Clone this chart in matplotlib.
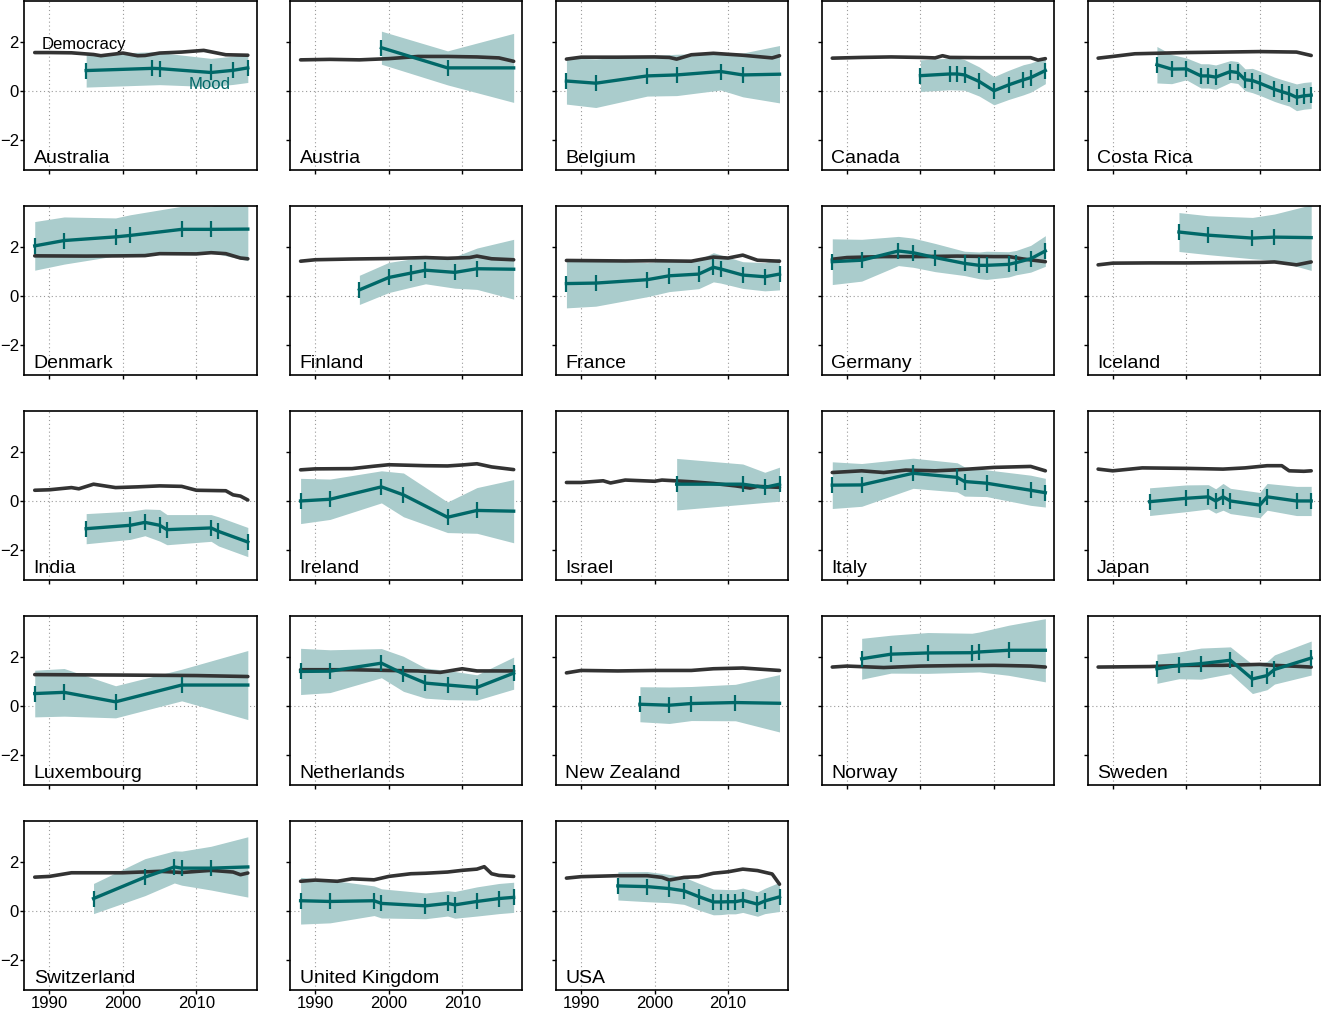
import numpy as np
import matplotlib
matplotlib.use('Agg')
import matplotlib.pyplot as plt

plt.rcParams['font.family'] = ['Liberation Sans', 'DejaVu Sans']

countries = ['Australia', 'Austria', 'Belgium', 'Canada', 'Costa Rica',
             'Denmark', 'Finland', 'France', 'Germany', 'Iceland',
             'India', 'Ireland', 'Israel', 'Italy', 'Japan',
             'Luxembourg', 'Netherlands', 'New Zealand', 'Norway', 'Sweden',
             'Switzerland', 'United Kingdom', 'USA']

# democracy index, knots
dem_years = {
    'Australia': [1988, 1990, 1993, 1996, 1997, 2000, 2002, 2003, 2005, 2008, 2011, 2014, 2017],
    'Austria': [1988, 1992, 1996, 2000, 2004, 2008, 2012, 2015, 2017],
    'Belgium': [1988, 1990, 1995, 2000, 2002, 2003, 2005, 2008, 2012, 2016, 2017],
    'Canada': [1988, 1992, 1996, 2000, 2002, 2003, 2004, 2008, 2012, 2015, 2016, 2017],
    'Costa Rica': [1988, 1990, 1993, 2000, 2005, 2010, 2015, 2017],
    'Denmark': [1988, 1995, 2000, 2003, 2005, 2010, 2012, 2014, 2016, 2017],
    'Finland': [1988, 1990, 1995, 2000, 2005, 2008, 2011, 2012, 2014, 2017],
    'France': [1988, 1992, 1996, 2000, 2005, 2008, 2010, 2012, 2014, 2017],
    'Germany': [1988, 1990, 1995, 2000, 2005, 2010, 2012, 2014, 2017],
    'Iceland': [1988, 1990, 1995, 2000, 2005, 2010, 2012, 2015, 2017],
    'India': [1988, 1990, 1993, 1994, 1996, 1999, 2002, 2005, 2008, 2010, 2014, 2015, 2016, 2017],
    'Ireland': [1988, 1990, 1995, 1998, 2000, 2005, 2008, 2010, 2012, 2014, 2017],
    'Israel': [1988, 1990, 1993, 1994, 1996, 2000, 2001, 2005, 2008, 2011, 2013, 2014, 2017],
    'Italy': [1988, 1992, 1995, 1998, 2002, 2005, 2010, 2015, 2017],
    'Japan': [1988, 1990, 1994, 2000, 2005, 2008, 2011, 2013, 2014, 2016, 2017],
    'Luxembourg': [1988, 2000, 2010, 2017],
    'Netherlands': [1988, 1995, 2000, 2004, 2007, 2010, 2012, 2017],
    'New Zealand': [1988, 1990, 1995, 2000, 2005, 2008, 2012, 2017],
    'Norway': [1988, 1990, 1995, 2000, 2005, 2010, 2012, 2015, 2017],
    'Sweden': [1988, 1995, 2000, 2005, 2010, 2012, 2015, 2017],
    'Switzerland': [1988, 1990, 1993, 2000, 2005, 2008, 2012, 2015, 2016, 2017],
    'United Kingdom': [1988, 1990, 1993, 1995, 1998, 2000, 2003, 2005, 2008, 2010, 2012, 2013, 2014, 2015, 2017],
    'USA': [1988, 1990, 1995, 1999, 2001, 2002, 2004, 2006, 2008, 2010, 2012, 2014, 2016, 2017],
}
dem_values = {
    'Australia': [1.58, 1.58, 1.57, 1.50, 1.45, 1.56, 1.45, 1.46, 1.56, 1.60, 1.67, 1.49, 1.47],
    'Austria': [1.28, 1.30, 1.28, 1.33, 1.42, 1.42, 1.40, 1.36, 1.22],
    'Belgium': [1.31, 1.39, 1.39, 1.40, 1.38, 1.31, 1.49, 1.55, 1.47, 1.36, 1.45],
    'Canada': [1.35, 1.38, 1.40, 1.38, 1.36, 1.45, 1.38, 1.37, 1.37, 1.37, 1.27, 1.33],
    'Costa Rica': [1.35, 1.42, 1.53, 1.58, 1.60, 1.62, 1.60, 1.46],
    'Denmark': [1.65, 1.64, 1.65, 1.66, 1.74, 1.73, 1.78, 1.74, 1.56, 1.53],
    'Finland': [1.43, 1.49, 1.52, 1.54, 1.58, 1.55, 1.58, 1.64, 1.53, 1.49],
    'France': [1.46, 1.45, 1.44, 1.45, 1.43, 1.60, 1.56, 1.68, 1.47, 1.43],
    'Germany': [1.51, 1.58, 1.62, 1.62, 1.64, 1.62, 1.62, 1.52, 1.41],
    'Iceland': [1.28, 1.35, 1.36, 1.36, 1.37, 1.38, 1.40, 1.28, 1.40],
    'India': [0.44, 0.46, 0.55, 0.50, 0.69, 0.55, 0.58, 0.62, 0.60, 0.44, 0.42, 0.25, 0.20, 0.04],
    'Ireland': [1.28, 1.32, 1.33, 1.43, 1.49, 1.45, 1.44, 1.48, 1.53, 1.40, 1.29],
    'Israel': [0.76, 0.76, 0.83, 0.74, 0.86, 0.81, 0.86, 0.79, 0.72, 0.62, 0.53, 0.60, 0.56],
    'Italy': [1.17, 1.24, 1.17, 1.27, 1.24, 1.28, 1.38, 1.42, 1.24],
    'Japan': [1.31, 1.24, 1.36, 1.34, 1.31, 1.36, 1.45, 1.45, 1.24, 1.22, 1.24],
    'Luxembourg': [1.29, 1.27, 1.25, 1.21],
    'Netherlands': [1.49, 1.49, 1.46, 1.44, 1.38, 1.53, 1.44, 1.44],
    'New Zealand': [1.36, 1.46, 1.44, 1.46, 1.46, 1.53, 1.56, 1.46],
    'Norway': [1.60, 1.64, 1.58, 1.64, 1.66, 1.67, 1.66, 1.64, 1.60],
    'Sweden': [1.60, 1.62, 1.67, 1.67, 1.71, 1.67, 1.63, 1.60],
    'Switzerland': [1.39, 1.42, 1.57, 1.57, 1.63, 1.58, 1.67, 1.60, 1.49, 1.56],
    'United Kingdom': [1.22, 1.27, 1.22, 1.32, 1.28, 1.42, 1.53, 1.55, 1.60, 1.67, 1.72, 1.82, 1.53, 1.46, 1.42],
    'USA': [1.35, 1.41, 1.45, 1.45, 1.38, 1.27, 1.38, 1.41, 1.55, 1.61, 1.72, 1.66, 1.52, 1.10],
}

# mood estimates at survey years, with half-width of the band
mood_years = {
    'Australia': [1995, 2004, 2005, 2012, 2015, 2017],
    'Austria': [1999, 2008, 2017],
    'Belgium': [1988, 1992, 1999, 2003, 2009, 2012, 2017],
    'Canada': [2000, 2004, 2005, 2006, 2008, 2010, 2012, 2014, 2015, 2017],
    'Costa Rica': [1996, 1998, 2000, 2002, 2003, 2004, 2006, 2007, 2008, 2009, 2010, 2012, 2013, 2014, 2015, 2016, 2017],
    'Denmark': [1988, 1992, 1999, 2001, 2008, 2012, 2017],
    'Finland': [1996, 2000, 2003, 2005, 2009, 2012, 2017],
    'France': [1988, 1992, 1999, 2002, 2006, 2008, 2009, 2012, 2015, 2017],
    'Germany': [1988, 1992, 1997, 1999, 2002, 2006, 2008, 2009, 2012, 2013, 2015, 2017],
    'Iceland': [1999, 2003, 2009, 2012, 2017],
    'India': [1995, 2001, 2003, 2005, 2006, 2012, 2013, 2017],
    'Ireland': [1988, 1992, 1999, 2002, 2008, 2012, 2017],
    'Israel': [2003, 2012, 2015, 2017],
    'Italy': [1988, 1992, 1999, 2005, 2006, 2009, 2015, 2017],
    'Japan': [1995, 2000, 2003, 2004, 2005, 2006, 2010, 2011, 2015, 2017],
    'Luxembourg': [1988, 1992, 1999, 2008, 2017],
    'Netherlands': [1988, 1992, 1999, 2002, 2005, 2008, 2012, 2017],
    'New Zealand': [1998, 2002, 2005, 2011, 2017],
    'Norway': [1992, 1996, 2001, 2007, 2008, 2012, 2017],
    'Sweden': [1996, 1999, 2002, 2006, 2009, 2011, 2012, 2017],
    'Switzerland': [1996, 2003, 2007, 2008, 2012, 2017],
    'United Kingdom': [1988, 1992, 1998, 1999, 2005, 2008, 2009, 2012, 2015, 2017],
    'USA': [1995, 1999, 2002, 2004, 2006, 2008, 2009, 2010, 2011, 2012, 2014, 2015, 2017],
}
mood_values = {
    'Australia': [0.84, 0.93, 0.92, 0.76, 0.85, 0.95],
    'Austria': [1.78, 0.95, 0.95],
    'Belgium': [0.41, 0.32, 0.62, 0.66, 0.80, 0.66, 0.69],
    'Canada': [0.63, 0.70, 0.70, 0.66, 0.39, 0.01, 0.25, 0.46, 0.55, 0.84],
    'Costa Rica': [1.08, 0.90, 0.91, 0.62, 0.62, 0.57, 0.80, 0.76, 0.46, 0.43, 0.32, 0.07, -0.03, -0.12, -0.26, -0.20, -0.17],
    'Denmark': [2.06, 2.28, 2.43, 2.49, 2.74, 2.74, 2.75],
    'Finland': [0.25, 0.76, 0.94, 1.06, 0.97, 1.12, 1.10],
    'France': [0.51, 0.53, 0.67, 0.83, 0.90, 1.18, 1.11, 0.86, 0.79, 0.90],
    'Germany': [1.41, 1.47, 1.85, 1.78, 1.58, 1.34, 1.26, 1.26, 1.30, 1.37, 1.53, 1.85],
    'Iceland': [2.63, 2.50, 2.38, 2.42, 2.40],
    'India': [-1.14, -1.00, -0.88, -1.00, -1.18, -1.11, -1.25, -1.69],
    'Ireland': [0.00, 0.07, 0.58, 0.25, -0.67, -0.39, -0.42],
    'Israel': [0.69, 0.69, 0.56, 0.69],
    'Italy': [0.65, 0.66, 1.14, 0.97, 0.80, 0.73, 0.44, 0.34],
    'Japan': [-0.03, 0.11, 0.17, 0.00, 0.17, 0.00, -0.17, 0.17, 0.00, 0.00],
    'Luxembourg': [0.51, 0.56, 0.17, 0.86, 0.86],
    'Netherlands': [1.42, 1.43, 1.76, 1.32, 0.94, 0.86, 0.76, 1.35],
    'New Zealand': [0.07, 0.03, 0.10, 0.14, 0.11],
    'Norway': [1.94, 2.13, 2.18, 2.19, 2.22, 2.29, 2.29],
    'Sweden': [1.53, 1.67, 1.74, 1.88, 1.11, 1.25, 1.50, 1.97],
    'Switzerland': [0.51, 1.39, 1.81, 1.76, 1.76, 1.81],
    'United Kingdom': [0.42, 0.39, 0.42, 0.31, 0.21, 0.31, 0.25, 0.39, 0.51, 0.56],
    'USA': [1.03, 1.00, 0.92, 0.83, 0.59, 0.37, 0.37, 0.38, 0.38, 0.44, 0.28, 0.41, 0.58],
}
mood_ci = {
    'Australia': [0.68, 0.68, 0.66, 0.58, 0.58, 0.60],
    'Austria': [0.68, 0.70, 1.42],
    'Belgium': [0.95, 1.00, 0.83, 0.85, 0.76, 0.90, 1.18],
    'Canada': [0.65, 0.65, 0.66, 0.63, 0.60, 0.58, 0.60, 0.62, 0.60, 0.54],
    'Costa Rica': [0.75, 0.60, 0.45, 0.50, 0.50, 0.50, 0.45, 0.45, 0.45, 0.50, 0.50, 0.50, 0.50, 0.50, 0.55, 0.55, 0.55],
    'Denmark': [1.00, 0.97, 0.78, 0.85, 0.95, 0.95, 1.30],
    'Finland': [0.60, 0.62, 0.58, 0.56, 0.65, 0.85, 1.23],
    'France': [1.00, 0.95, 0.70, 0.65, 0.60, 0.60, 0.58, 0.55, 0.58, 0.65],
    'Germany': [0.94, 0.86, 0.60, 0.60, 0.58, 0.50, 0.55, 0.58, 0.52, 0.50, 0.55, 0.63],
    'Iceland': [0.80, 0.80, 0.85, 0.95, 1.35],
    'India': [0.62, 0.58, 0.55, 0.65, 0.62, 0.55, 0.60, 0.60],
    'Ireland': [0.93, 0.83, 0.66, 0.90, 0.63, 0.94, 1.30],
    'Israel': [1.06, 0.83, 0.62, 0.70],
    'Italy': [0.96, 0.88, 0.62, 0.60, 0.60, 0.55, 0.62, 0.59],
    'Japan': [0.57, 0.55, 0.50, 0.50, 0.55, 0.52, 0.52, 0.55, 0.60, 0.60],
    'Luxembourg': [0.96, 0.98, 0.66, 0.65, 1.42],
    'Netherlands': [0.95, 0.88, 0.60, 0.72, 0.62, 0.60, 0.52, 0.66],
    'New Zealand': [0.72, 0.75, 0.70, 0.75, 1.18],
    'Norway': [0.84, 0.78, 0.84, 0.80, 0.82, 1.03, 1.30],
    'Sweden': [0.60, 0.55, 0.64, 0.55, 0.60, 0.58, 0.60, 0.70],
    'Switzerland': [0.62, 0.76, 0.66, 0.70, 0.90, 1.24],
    'United Kingdom': [0.96, 0.88, 0.61, 0.60, 0.53, 0.52, 0.55, 0.60, 0.62, 0.62],
    'USA': [0.58, 0.62, 0.58, 0.56, 0.55, 0.53, 0.52, 0.50, 0.50, 0.50, 0.50, 0.52, 0.60],
}
# last point carried forward to 2017, not a survey year (no tick mark)
open_end = ['Austria', 'Belgium', 'Denmark', 'Finland', 'Iceland', 'Ireland',
            'Luxembourg', 'New Zealand', 'Norway', 'Switzerland']

x_ticks = [1990, 2000, 2010]
y_ticks = [-2, 0, 2]

dem_color = '#333333'
mood_color = '#006868'
band_color = '#aacccc'

fig, axes = plt.subplots(5, 5, figsize=(13.22, 10.11), dpi=100)
fig.subplots_adjust(left=0.0185, right=0.9985, top=0.999, bottom=0.0208,
                    wspace=0.145, hspace=0.213)

for i, ax in enumerate(axes.flat):
    if i >= len(countries):
        ax.axis('off')
        continue
    name = countries[i]
    row, col = divmod(i, 5)

    for xv in x_ticks:
        ax.axvline(xv, color='#999999', lw=0.8, ls=(0, (1, 2.5)), zorder=0)
    ax.axhline(0, color='#999999', lw=0.8, ls=(0, (1, 2.5)), zorder=0)

    mx = np.array(mood_years[name])
    my = np.array(mood_values[name])
    ci = np.array(mood_ci[name])
    ax.fill_between(mx, my - ci, my + ci, color=band_color, lw=0, zorder=1)
    ax.plot(dem_years[name], dem_values[name], color=dem_color, lw=2.6,
            solid_capstyle='round', zorder=2)
    ax.plot(mx, my, color=mood_color, lw=2.4, zorder=3)
    marks = mx[:-1] if name in open_end else mx
    mvals = my[:-1] if name in open_end else my
    ax.plot(marks, mvals, ls='none', marker='|', ms=11, mew=1.6,
            color=mood_color, zorder=4)

    ax.set_xlim(1986.6, 2018.2)
    ax.set_ylim(-3.25, 3.7)
    ax.set_xticks(x_ticks)
    ax.set_yticks(y_ticks)
    ax.tick_params(direction='out', length=3, width=1, labelsize=12, pad=1)
    if col != 0:
        ax.set_yticklabels([])
    if row == 4:
        ax.set_xticklabels([str(v) for v in x_ticks])
    else:
        ax.set_xticklabels([])
    for s in ax.spines.values():
        s.set_linewidth(1.2)

    ax.text(0.04, 0.02, name, transform=ax.transAxes, fontsize=14,
            ha='left', va='bottom')

    if name == 'Australia':
        ax.text(1988.9, 1.9, 'Democracy', fontsize=12, ha='left',
                va='center', color='black', zorder=5)
        ax.text(2009.0, 0.28, 'Mood', fontsize=12, ha='left',
                va='center', color=mood_color, zorder=5)

fig.savefig('out.png', dpi=100)
